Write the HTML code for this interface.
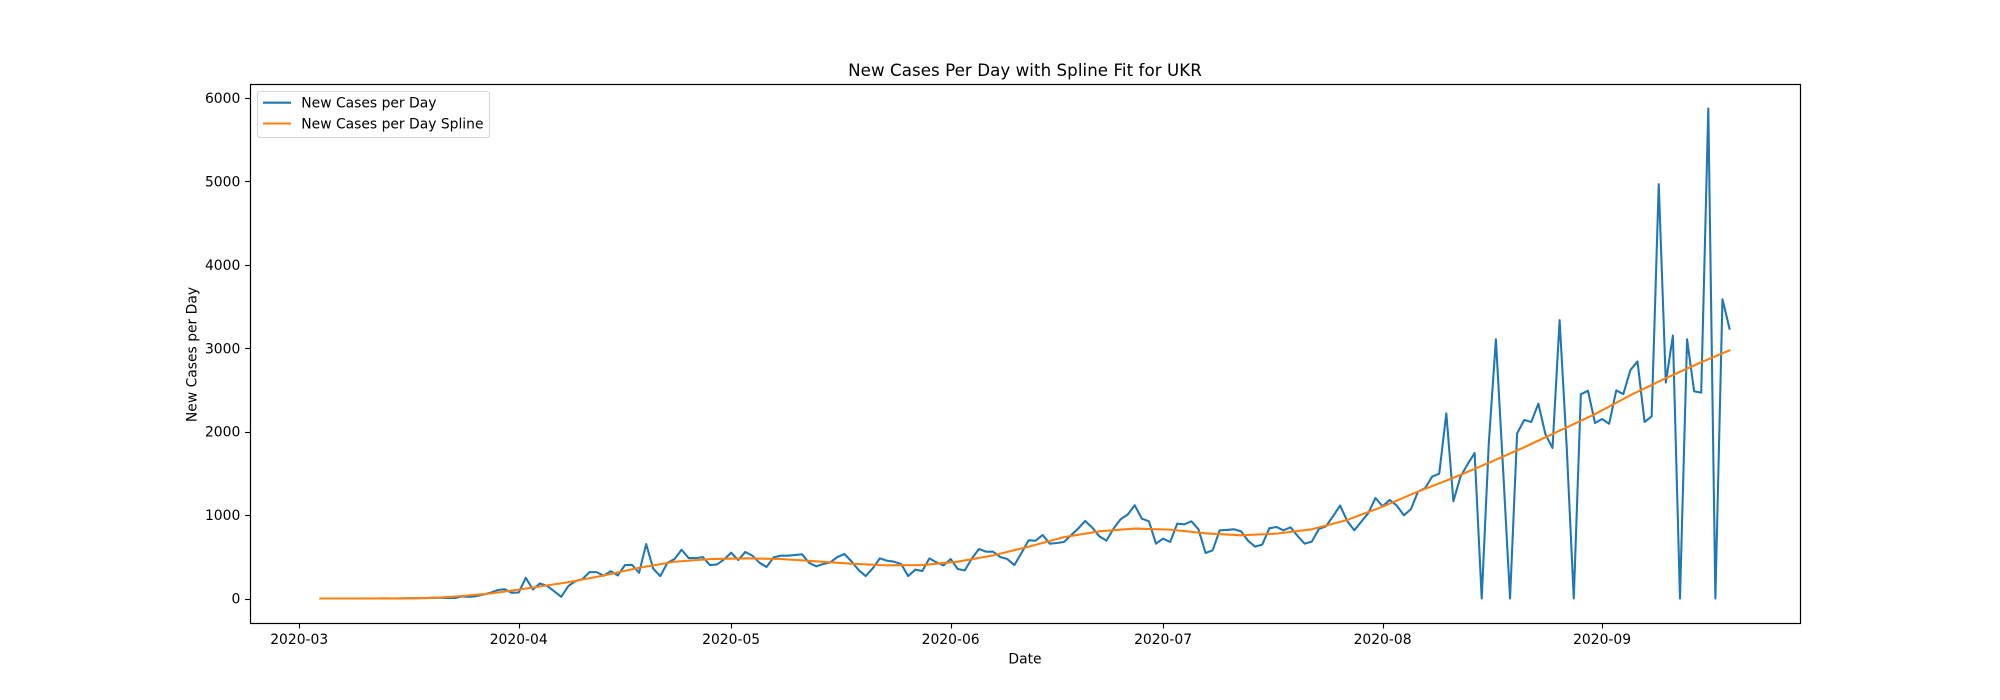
<!DOCTYPE html>
<html lang="en">
<head>
<meta charset="utf-8">
<title>New Cases Per Day with Spline Fit for UKR</title>
<style>
  html, body { margin: 0; padding: 0; background: #fff; }
  svg { display: block; }
  text { font-family: "DejaVu Sans", "Liberation Sans", sans-serif; fill: #000; }
</style>
</head>
<body>
<svg id="chart" xmlns="http://www.w3.org/2000/svg" width="2000" height="700" viewBox="0 0 2000 700">
  <rect x="0" y="0" width="2000" height="700" fill="#fff"/>
  <g id="x-ticks"></g>
  <g id="y-ticks"></g>
  <polyline id="series-cases" fill="none" stroke="#1f77b4" stroke-width="2.08" stroke-linejoin="round" stroke-linecap="square"/>
  <polyline id="series-spline" fill="none" stroke="#ff7f0e" stroke-width="2.08" stroke-linejoin="round" stroke-linecap="square"/>
  <rect x="250.5" y="84.5" width="1550" height="539" fill="none" stroke="#000" stroke-width="1.2"/>
  <text x="1025" y="76" font-size="16.67" letter-spacing="0.06" text-anchor="middle">New Cases Per Day with Spline Fit for UKR</text>
  <text x="1025" y="663.3" font-size="13.89" text-anchor="middle">Date</text>
  <text x="196.5" y="354.5" font-size="13.89" text-anchor="middle" transform="rotate(-90 196.5 354.5)">New Cases per Day</text>
  <g>
    <rect x="257.5" y="91.5" width="232" height="46" rx="2.8" ry="2.8" fill="#fff" fill-opacity="0.8" stroke="#d6d6d6" stroke-width="1.11"/>
    <line x1="263" y1="102.7" x2="291" y2="102.7" stroke="#1f77b4" stroke-width="2.08"/>
    <text x="301.3" y="107.7" font-size="13.89">New Cases per Day</text>
    <line x1="263" y1="123.5" x2="291" y2="123.5" stroke="#ff7f0e" stroke-width="2.08"/>
    <text x="301.3" y="128.5" font-size="13.89">New Cases per Day Spline</text>
  </g>
</svg>
<script>
// Chart data (day index 0 = startDate)
const startDate = "2020-03-04";
const newCases = [
  0,0,0,0,0,0,0,0,0,1,
  0,0,2,3,3,6,10,8,6,6,
  25,20,28,48,68,100,112,68,72,248,
  108,180,152,88,20,148,208,232,316,316,
  272,328,276,400,404,308,652,356,268,428,
  472,584,484,484,496,400,408,468,548,461,
  557,513,429,377,493,513,513,521,529,429,
  385,413,433,497,533,445,341,269,361,481,
  453,441,413,269,345,329,481,433,397,473,
  353,337,481,593,561,561,497,473,401,545,
  697,693,761,657,665,677,757,837,929,849,
  745,693,837,949,1005,1117,957,925,657,717,
  677,897,889,925,829,545,577,817,821,829,
  805,693,621,645,841,857,817,853,749,657,
  681,833,865,985,1113,929,817,921,1025,1204,
  1105,1181,1113,997,1069,1281,1321,1461,1495,2218,
  1164,1459,1607,1743,0,1859,3105,1579,0,1978,
  2138,2114,2334,1967,1803,3334,1819,0,2446,2490,
  2102,2150,2094,2493,2449,2737,2840,2114,2182,4964,
  2586,3150,0,3105,2482,2466,5870,0,3585,3232
];
const splineDays = [0,5,10,15,17,20,24,28,30,35,40,45,50,55,60,65,70,75,80,85,90,95,100,105,110,115,120,125,130,135,140,145,150,155,160,165,170,175,180,185,190,195,199];
const splineValues = [0,0,1,5,12,30,60,106,132,195,275,368,440,472,481,473,445,417,397,401,441,517,620,735,805,838,825,781,757,777,829,941,1100,1281,1445,1625,1812,2010,2210,2435,2640,2830,2973];
const xTickLabels = ["2020-03","2020-04","2020-05","2020-06","2020-07","2020-08","2020-09"];
const yTickValues = [0,1000,2000,3000,4000,5000,6000];

// Axis functions
const plotLeft = 250, plotRight = 1800, plotTop = 84, plotBottom = 623;
const dayCount = newCases.length - 1;
const xMarginPx = (plotRight - plotLeft) / 22;
const yMaxData = 5870;
const xScale = d => plotLeft + xMarginPx + d * (plotRight - plotLeft - 2 * xMarginPx) / dayCount;
const yScale = v => plotBottom - (v + yMaxData * 0.05) * (plotBottom - plotTop) / (yMaxData * 1.1);
const dayOf = s => (Date.parse(s + "T00:00:00Z") - Date.parse(startDate + "T00:00:00Z")) / 86400000;

const NS = "http://www.w3.org/2000/svg";
document.getElementById("series-cases").setAttribute("points",
  newCases.map((v, i) => xScale(i).toFixed(2) + "," + yScale(v).toFixed(2)).join(" "));
document.getElementById("series-spline").setAttribute("points",
  splineValues.map((v, i) => xScale(splineDays[i]).toFixed(2) + "," + yScale(v).toFixed(2)).join(" "));

const xG = document.getElementById("x-ticks");
xTickLabels.forEach(label => {
  const x = xScale(dayOf(label + "-01"));
  const sx = Math.round(x) + 0.5;
  const tick = document.createElementNS(NS, "line");
  
  
  tick.setAttribute("x1", sx); tick.setAttribute("x2", sx);
  tick.setAttribute("y1", plotBottom); tick.setAttribute("y2", plotBottom + 5.5);
  tick.setAttribute("stroke", "#000"); tick.setAttribute("stroke-width", "1.11");
  xG.appendChild(tick);
  const text = document.createElementNS(NS, "text");
  
  
  text.setAttribute("x", x); text.setAttribute("y", 644);
  text.setAttribute("font-size", "13.89"); text.setAttribute("text-anchor", "middle");
  text.textContent = label;
  xG.appendChild(text);
});

const yG = document.getElementById("y-ticks");
yTickValues.forEach(value => {
  const y = yScale(value);
  const sy = Math.round(y) + 0.5;
  const tick = document.createElementNS(NS, "line");
  
  
  tick.setAttribute("x1", plotLeft - 4.86); tick.setAttribute("x2", plotLeft);
  tick.setAttribute("y1", sy); tick.setAttribute("y2", sy);
  tick.setAttribute("stroke", "#000"); tick.setAttribute("stroke-width", "1.11");
  yG.appendChild(tick);
  const text = document.createElementNS(NS, "text");
  
  
  text.setAttribute("x", 240.3); text.setAttribute("y", y + 5.2);
  text.setAttribute("font-size", "13.89"); text.setAttribute("text-anchor", "end");
  text.textContent = String(value);
  yG.appendChild(text);
});
</script>
</body>
</html>
